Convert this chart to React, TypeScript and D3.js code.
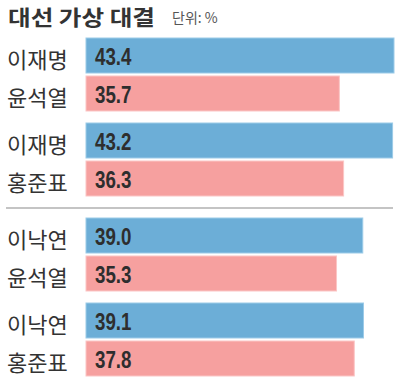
import React from "react";
import * as d3 from "d3";

const title = "대선 가상 대결";
const unitLabel = "단위: %";
const candidates = ["이재명", "윤석열", "이재명", "홍준표", "이낙연", "윤석열", "이낙연", "홍준표"];
const values = [43.4, 35.7, 43.2, 36.3, 39.0, 35.3, 39.1, 37.8];
const parties = ["dem", "ppp", "dem", "ppp", "dem", "ppp", "dem", "ppp"];

const W = 400;
const H = 378;
const colors: Record<string, string> = { dem: "#6caed7", ppp: "#f6a09f" };
const strokes: Record<string, string> = { dem: "#9ccbe8", ppp: "#fbc6c5" };

export default function App() {
  const x = d3.scaleLinear().domain([0, d3.max(values) as number]).range([86, 394]);
  const barH = 35;
  const yPos = (i: number) => {
    const pair = Math.floor(i / 2);
    const within = i % 2;
    return 38 + pair * 85 + (pair >= 2 ? 10 : 0) + within * 38;
  };
  return (
    <svg
      width={W}
      height={H}
      style={{ position: "absolute", left: 0, top: 0, background: "#fff" }}
    >
      <rect x={0} y={0} width={W} height={H} fill="#fff" />
      <text
        x={8}
        y={25}
        fontFamily="'Noto Sans CJK KR', sans-serif"
        fontWeight={700}
        fontSize={21}
        fill="#333"
        textLength={147}
        lengthAdjust="spacingAndGlyphs"
      >
        {title}
      </text>
      <text
        x={172}
        y={23}
        fontFamily="'Noto Sans CJK KR', sans-serif"
        fontSize={14}
        fill="#555"
      >
        {unitLabel}
      </text>
      <line x1={6} x2={393} y1={208} y2={208} stroke="#c4c4c4" strokeWidth={2} />
      {values.map((v, i) => {
        const y = yPos(i);
        const cy = y + barH / 2 + 2;
        return (
          <g key={i}>
            <rect
              x={x(0)}
              y={y}
              width={x(v) - x(0)}
              height={barH}
              fill={colors[parties[i]]}
              stroke={strokes[parties[i]]}
              strokeWidth={1}
            />
            <text
              x={7}
              y={cy}
              dominantBaseline="central"
              fontFamily="'Noto Sans CJK KR', sans-serif"
              fontSize={22}
              fill="#333"
            >
              {candidates[i]}
            </text>
            <text
              transform={`translate(95,${cy}) scale(0.78,1)`}
              dominantBaseline="central"
              fontFamily="'Liberation Sans', Arial, sans-serif"
              fontWeight={700}
              fontSize={24}
              fill="#2e2e2e"
            >
              {v.toFixed(1)}
            </text>
          </g>
        );
      })}
    </svg>
  );
}
